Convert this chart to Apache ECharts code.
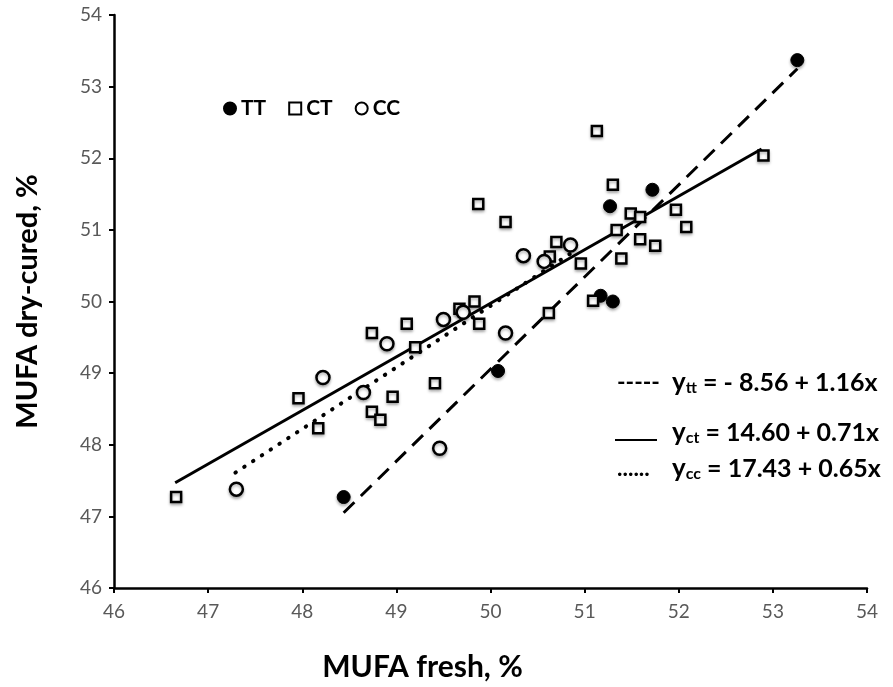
<!DOCTYPE html>
<html>
<head>
<meta charset="utf-8">
<script src="https://cdn.jsdelivr.net/npm/echarts@6/dist/echarts.min.js"></script>
<style>html,body{margin:0;padding:0;background:#fff}#c{width:893px;height:687px}</style>
</head>
<body>
<div id="c"></div>
<script>
// MUFA fresh (x), MUFA dry-cured (y)
const ttData = [[53.26,53.37],[51.72,51.56],[51.27,51.33],[51.17,50.08],[51.30,50.00],[50.08,49.03],[48.44,47.27]];
const ctData = [[52.90,52.04],[51.13,52.38],[51.30,51.63],[49.87,51.36],[50.16,51.11],[51.49,51.23],[51.59,51.18],[51.97,51.28],[52.08,51.04],[51.34,51.00],[51.59,50.87],[51.75,50.78],[50.70,50.83],[50.63,50.63],[50.96,50.53],[51.39,50.60],[51.09,50.01],[50.62,49.84],[49.83,50.00],[49.67,49.90],[49.88,49.69],[49.11,49.69],[49.20,49.36],[49.41,48.86],[48.74,49.56],[47.96,48.65],[48.96,48.67],[48.17,48.23],[48.74,48.46],[48.83,48.35],[46.66,47.27]];
const ccData = [[50.85,50.79],[50.35,50.64],[50.57,50.56],[50.16,49.56],[49.71,49.85],[49.50,49.75],[48.90,49.41],[48.22,48.94],[48.65,48.73],[49.46,47.95],[47.30,47.38]];
// trend lines as drawn (endpoints)
const ttLine = [[48.44,47.05],[53.26,53.25]];
const ctLine = [[46.65,47.47],[52.88,52.13]];
const ccLine = [[47.29,47.61],[50.85,50.67]];
const xTicks = {min:46, max:54, interval:1};
const yTicks = {min:46, max:54, interval:1};
const equations = [
  {prefix:'-----', sub:'tt', text:' = - 8.56 + 1.16x'},
  {prefix:'', sub:'ct', text:' = 14.60 + 0.71x'},
  {prefix:'......', sub:'cc', text:' = 17.43 + 0.65x'}
];

const FONT = 'Lato, "Open Sans", sans-serif';
const chart = echarts.init(document.getElementById('c'));
const shadow = {shadowBlur:3, shadowColor:'rgba(0,0,0,0.3)', shadowOffsetY:2};
const eqY = [383, 433, 469];
const graphics = [];
equations.forEach((e,i)=>{
  graphics.push({type:'text', x:617, y:eqY[i], style:{
    text:e.prefix, font:'bold 23px '+FONT, fill:'#000', textVerticalAlign:'middle'}});
  graphics.push({type:'text', x:672, y:eqY[i], style:{
    text:'{y|y}{s|'+e.sub+'}{t|'+e.text+'}', textVerticalAlign:'middle',
    rich:{
      y:{font:'bold 26px '+FONT, fill:'#000'},
      s:{font:'bold 16px '+FONT, fill:'#000', verticalAlign:'bottom', padding:[10,0,0,0]},
      t:{font:'bold 25px '+FONT, fill:'#000'}
    }
  }});
});
graphics.push({type:'line', shape:{x1:615,y1:440,x2:657,y2:440}, style:{stroke:'#000', lineWidth:2}});

chart.setOption({
  animation:false,
  backgroundColor:'#fff',
  grid:{left:114, right:26, top:15, bottom:99},
  legend:{
    left:218, top:93, itemGap:22, itemWidth:12, itemHeight:12,
    textStyle:{fontFamily:FONT, fontWeight:'bold', fontSize:21, color:'#000'},
    data:[{name:'TT', icon:'circle'},{name:'CT', icon:'rect'},{name:'CC', icon:'circle'}]
  },
  xAxis:{
    type:'value', min:xTicks.min, max:xTicks.max, interval:xTicks.interval,
    name:'MUFA fresh, %', nameLocation:'middle', nameGap:64,
    nameTextStyle:{fontFamily:FONT, fontWeight:'bold', fontSize:30, color:'#000', padding:[0,136,0,0]},
    axisLine:{show:true, lineStyle:{color:'#000', width:2.5}},
    axisTick:{show:true, length:5, lineStyle:{color:'#000', width:2}},
    axisLabel:{fontFamily:FONT, fontSize:19, color:'#595959', margin:14},
    splitLine:{show:false}
  },
  yAxis:{
    type:'value', min:yTicks.min, max:yTicks.max, interval:yTicks.interval,
    name:'MUFA dry-cured, %', nameLocation:'middle', nameGap:72,
    nameTextStyle:{fontFamily:FONT, fontWeight:'bold', fontSize:29, color:'#000'},
    axisLine:{show:true, lineStyle:{color:'#000', width:2.5}},
    axisTick:{show:true, length:5, lineStyle:{color:'#000', width:2}},
    axisLabel:{fontFamily:FONT, fontSize:19, color:'#595959', margin:12},
    splitLine:{show:false}
  },
  graphic:graphics,
  series:[
    {name:'TTline', type:'line', data:ttLine, showSymbol:false, silent:true, z:1,
     lineStyle:{color:'#000', width:3, type:[15,9]}},
    {name:'CTline', type:'line', data:ctLine, showSymbol:false, silent:true, z:1,
     lineStyle:{color:'#000', width:3, type:'solid'}},
    {name:'CCline', type:'line', data:ccLine, showSymbol:false, silent:true, z:1,
     lineStyle:{color:'#000', width:4, type:[0.5,10], cap:'round'}},
    {name:'TT', type:'scatter', data:ttData, symbol:'circle', symbolSize:13, z:3,
     itemStyle:Object.assign({color:'#000', borderColor:'#000', borderWidth:1, opacity:1}, shadow)},
    {name:'CT', type:'scatter', data:ctData, symbol:'rect', symbolSize:10, z:3,
     itemStyle:Object.assign({color:'#fff', borderColor:'#000', borderWidth:2.5, opacity:1}, shadow)},
    {name:'CC', type:'scatter', data:ccData, symbol:'circle', symbolSize:13, z:3,
     itemStyle:Object.assign({color:'#fff', borderColor:'#000', borderWidth:2.5, opacity:1}, shadow)}
  ]
});
</script>
</body>
</html>
